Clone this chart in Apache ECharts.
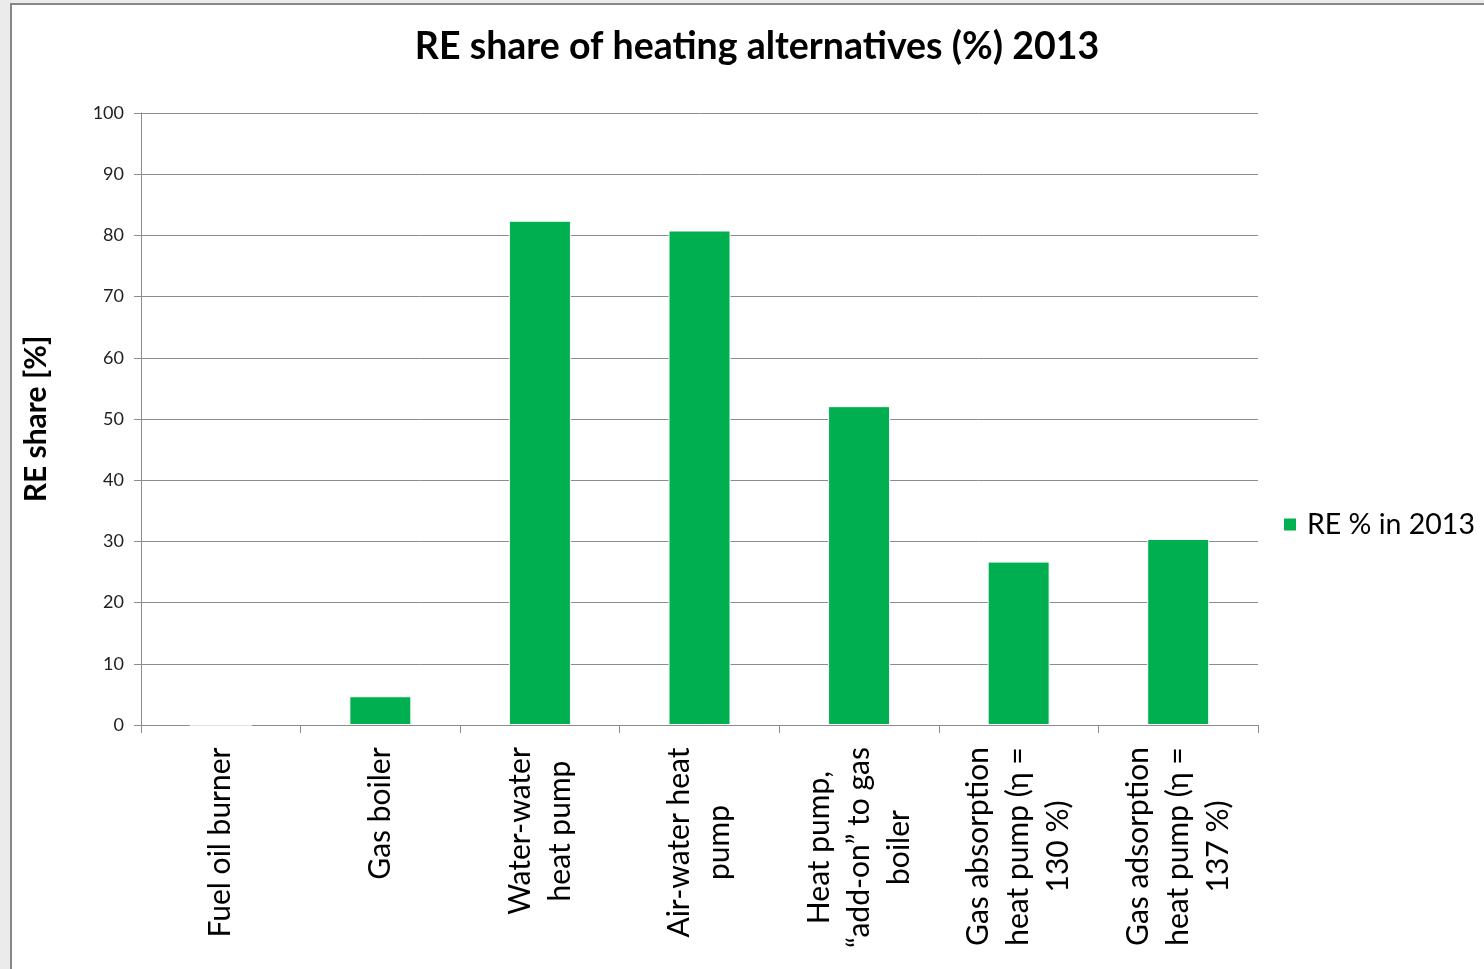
<!DOCTYPE html>
<html>
<head>
<meta charset="utf-8">
<script src="https://cdn.jsdelivr.net/npm/echarts@6/dist/echarts.min.js"></script>
<style>
html,body{margin:0;padding:0;width:1484px;height:969px;overflow:hidden;background:#ebebeb;}
#frame{position:absolute;left:10px;top:3px;width:1500px;height:1000px;background:#fff;border:2px solid #878787;box-sizing:border-box;}
#chart{position:absolute;left:0;top:0;width:1484px;height:969px;}
</style>
</head>
<body>
<div id="frame"></div>
<div id="chart"></div>
<script>
const titleText = 'RE share of heating alternatives (%) 2013';
const yAxisName = 'RE share [%]';
const seriesName = 'RE % in 2013';
const categories = [
  'Fuel oil burner',
  'Gas boiler',
  'Water-water\nheat pump',
  'Air-water heat\npump',
  'Heat pump,\n\u201cadd-on\u201d to gas\nboiler',
  'Gas absorption\nheat pump (\u03b7 =\n130 %)',
  'Gas adsorption\nheat pump (\u03b7 =\n137 %)'
];
const values = [0, 4.7, 82.4, 80.8, 52.1, 26.7, 30.4];
const yTicks = [0, 10, 20, 30, 40, 50, 60, 70, 80, 90, 100];

const FONT = 'Lato, "Open Sans", sans-serif';
const catFontSize = 30;

// measure widest line of each category so lines center within their own block
const cv = document.createElement('canvas').getContext('2d');
cv.font = catFontSize + 'px ' + FONT;
const rich = {};
categories.forEach((c, i) => {
  const w = Math.max(...c.split('\n').map(l => cv.measureText(l).width));
  rich['w' + i] = {width: Math.ceil(w), align: 'center', fontSize: catFontSize, fontFamily: FONT, color: '#000', lineHeight: 40};
});

const chart = echarts.init(document.getElementById('chart'), null, {renderer: 'canvas'});
chart.setOption({
  backgroundColor: 'transparent',
  animation: false,
  title: {
    text: titleText,
    left: 752, top: 23, textAlign: 'center',
    textStyle: {fontFamily: FONT, fontWeight: 'bold', fontSize: 37.5, color: '#000'}
  },
  legend: {
    data: [seriesName],
    left: 1282, top: 510, padding: 0,
    icon: 'rect', itemWidth: 14, itemHeight: 14, itemGap: 10,
    textStyle: {fontFamily: FONT, fontSize: 28.5, color: '#000', padding: [0, 0, 0, 5]}
  },
  grid: {left: 141, right: 226, top: 113, bottom: 244, containLabel: false},
  xAxis: {
    type: 'category',
    data: categories,
    axisLine: {lineStyle: {color: '#8c8c8c', width: 1}},
    axisTick: {show: true, length: 8, lineStyle: {color: '#8c8c8c'}, alignWithLabel: false},
    axisLabel: {
      rotate: 90, margin: 22, interval: 0,
      formatter: (v, i) => v.split('\n').map(l => '{w' + i + '|' + l + '}').join('\n'),
      rich: rich
    }
  },
  yAxis: {
    type: 'value', min: 0, max: 100, interval: 10,
    name: yAxisName, nameLocation: 'middle', nameGap: 90, nameRotate: 90,
    nameTextStyle: {fontFamily: FONT, fontWeight: 'bold', fontSize: 30, color: '#000'},
    axisLine: {show: true, lineStyle: {color: '#8c8c8c'}},
    axisTick: {show: true, length: 7, inside: false, lineStyle: {color: '#8c8c8c'}},
    axisLabel: {margin: 17, fontFamily: FONT, fontSize: 18, color: '#222', formatter: v => yTicks.includes(v) ? String(v) : ''},
    splitLine: {show: true, lineStyle: {color: '#8c8c8c', width: 1}}
  },
  series: [{
    name: seriesName,
    type: 'bar',
    data: values,
    barWidth: 62,
    itemStyle: {color: '#00b050', borderColor: '#ffffff', borderWidth: 1}
  }]
});
</script>
</body>
</html>
